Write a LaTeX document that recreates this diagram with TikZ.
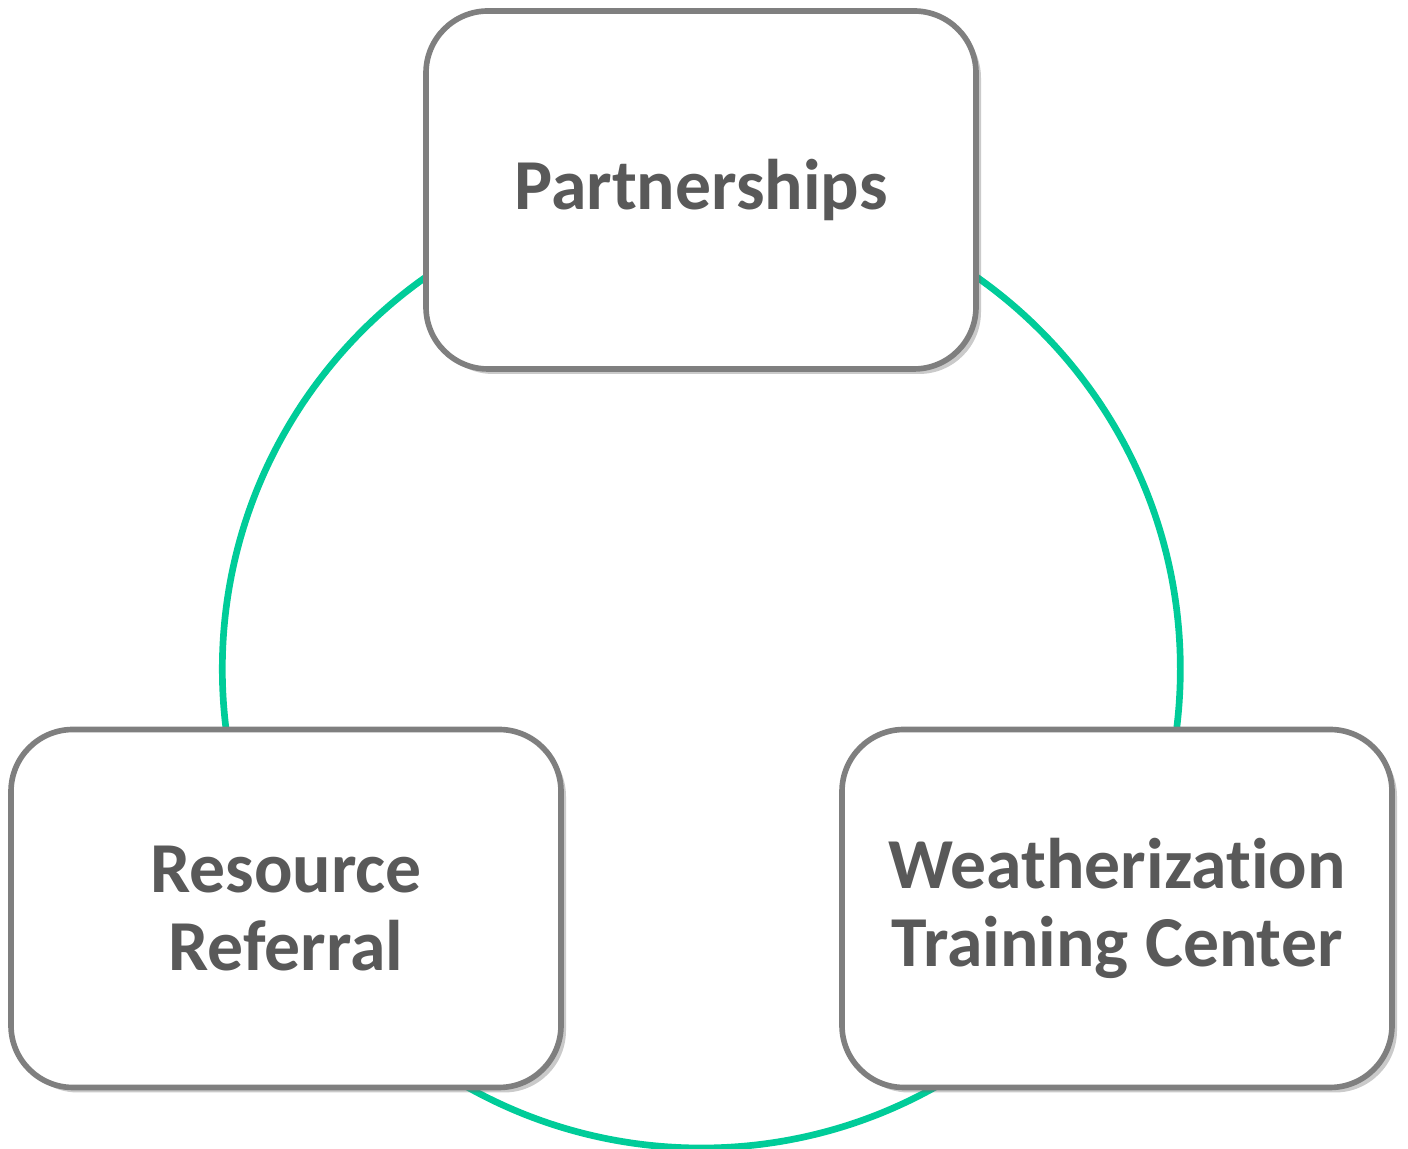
\documentclass[tikz,border=0pt]{standalone}
\usepackage{fontspec}
\setmainfont{Carlito}[Ligatures=NoCommon]
\usepackage{xcolor}
\usetikzlibrary{shadows,positioning,calc,backgrounds}
\definecolor{ringgreen}{RGB}{0,204,153}
\definecolor{boxgray}{RGB}{127,127,127}
\definecolor{textgray}{RGB}{89,89,89}

\begin{document}
\begin{tikzpicture}[
        topic/.style={draw=boxgray, line width=1.6pt, fill=white, rounded corners=0.62cm,
            minimum width=5.5cm, minimum height=3.58cm, align=center,
            text=textgray, font=\fontsize{20.4}{22.3}\selectfont\bfseries,
            drop shadow={shadow xshift=0.05cm, shadow yshift=-0.05cm, opacity=0.35, fill=black!60}},
        ring/.style={draw=ringgreen, line width=1.9pt}
    ]
        \useasboundingbox (0,0) rectangle (14.08,11.49);
        \node[topic] (part) at (7.01,9.59) {Partnerships};
        \node[topic] (ref) at (2.86,2.405) {Resource\\Referral};
        \node[topic] (wtc) at (11.17,2.405) {Weatherization\\Training Center};
        \coordinate (c) at (barycentric cs:part=1,ref=1,wtc=1);
        \begin{scope}[on background layer]
        \draw[ring] let \p1 = ($(part)-(c)$), \n1 = {veclen(\x1,\y1)} in (c) circle (\n1);
        \end{scope}
\end{tikzpicture}
\end{document}
